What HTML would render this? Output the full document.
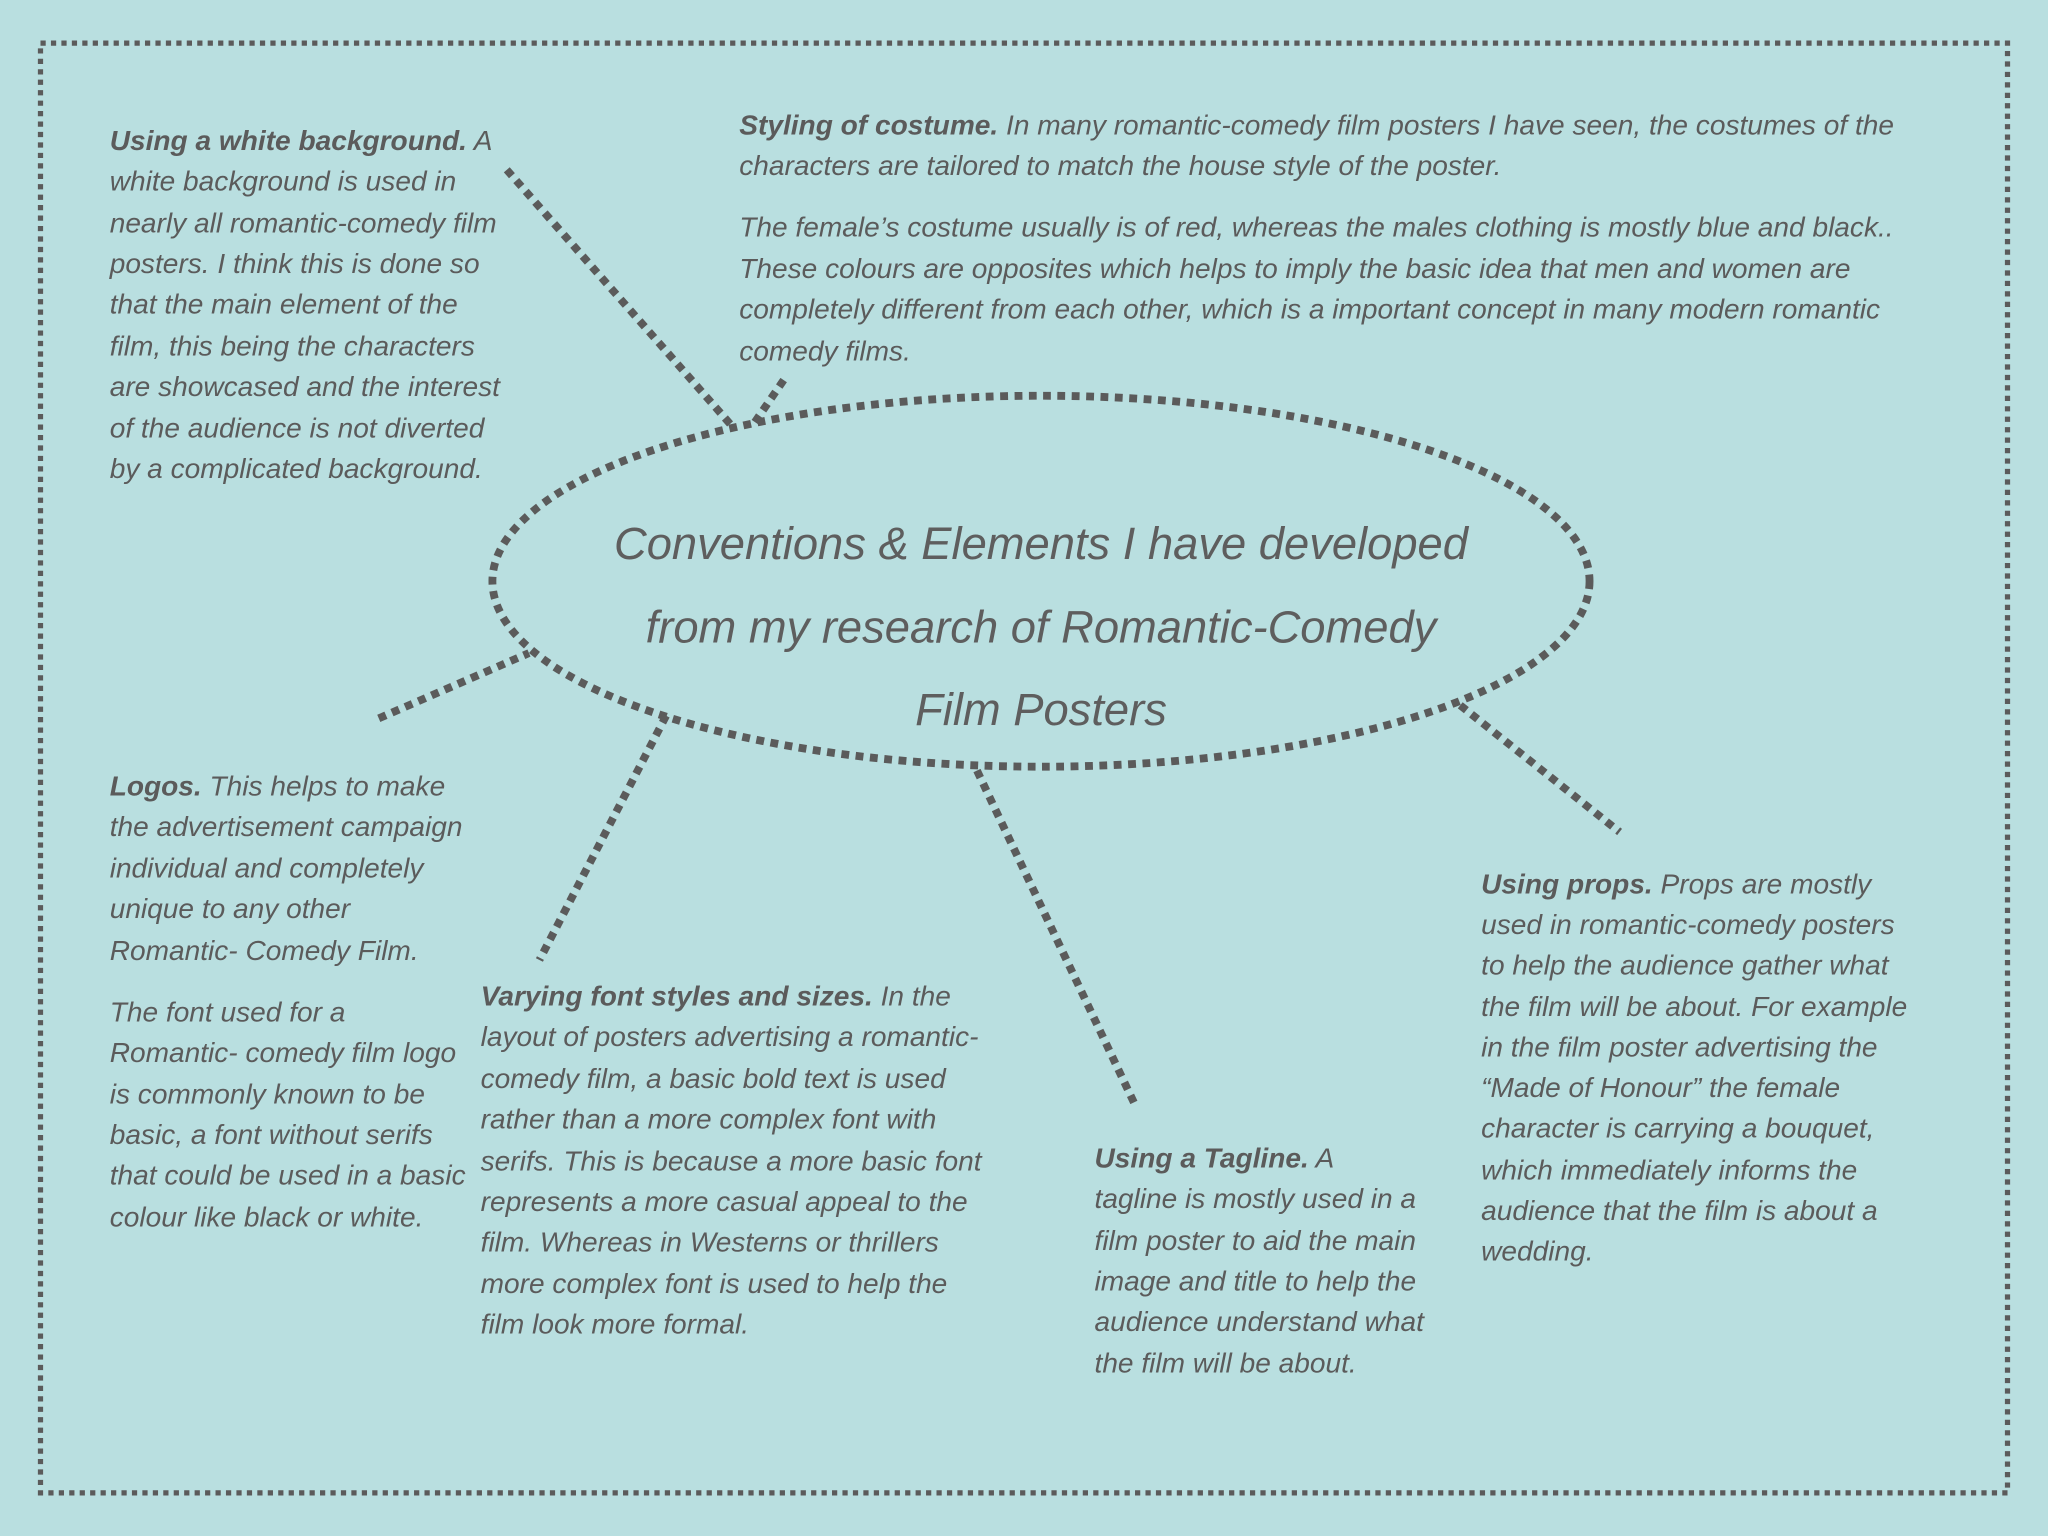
<!DOCTYPE html>
<html><head><meta charset="utf-8">
<style>
html,body{margin:0;padding:0;background:#b9dfe0;}
svg{display:block;}
text{font-family:"Liberation Sans",sans-serif;font-style:italic;fill:#5b5b5b;font-size:21.5px;}
.b{font-weight:bold;}
.t{font-family:"Liberation Sans",sans-serif;font-size:34.7px;fill:#5e5e5e;}
</style></head><body>
<svg width="2048" height="1536" viewBox="0 0 1568 1176" xmlns="http://www.w3.org/2000/svg">
<rect width="1568" height="1176" fill="#b9dfe0"/>
<rect x="31" y="33" width="1506" height="1110" fill="none" stroke="#5b5b5b" stroke-width="4" stroke-dasharray="4 4"/>
<g stroke="#5b5b5b" stroke-width="6" stroke-dasharray="6 5" fill="none">
<ellipse cx="797" cy="445" rx="420" ry="142"/>
<line x1="388" y1="130" x2="562" y2="328"/>
<line x1="600" y1="291" x2="576" y2="326"/>
<line x1="290" y1="550" x2="405" y2="500"/>
<line x1="510" y1="548" x2="413" y2="735"/>
<line x1="748" y1="590" x2="870" y2="848"/>
<line x1="1118" y1="540" x2="1240" y2="637"/>
</g>
<text class="t" x="797" y="428" text-anchor="middle">Conventions &amp; Elements I have developed</text>
<text class="t" x="797" y="492" text-anchor="middle">from my research of Romantic-Comedy</text>
<text class="t" x="797" y="555" text-anchor="middle">Film Posters</text>

<text x="84" y="115"><tspan class="b">Using a white background.</tspan> A</text>
<text x="84" y="146">white background is used in</text>
<text x="84" y="178">nearly all romantic-comedy film</text>
<text x="84" y="209">posters. I think this is done so</text>
<text x="84" y="240">that the main element of the</text>
<text x="84" y="272">film, this being the characters</text>
<text x="84" y="303">are showcased and the interest</text>
<text x="84" y="335">of the audience is not diverted</text>
<text x="84" y="366">by a complicated background.</text>

<text x="566" y="103"><tspan class="b">Styling of costume.</tspan> In many romantic-comedy film posters I have seen, the costumes of the</text>
<text x="566" y="134">characters are tailored to match the house style of the poster.</text>
<text x="566" y="181">The female’s costume usually is of red, whereas the males clothing is mostly blue and black..</text>
<text x="566" y="213">These colours are opposites which helps to imply the basic idea  that men and women are</text>
<text x="566" y="244">completely different from each other, which is a important concept in many modern romantic</text>
<text x="566" y="276">comedy films.</text>

<text x="84" y="609"><tspan class="b">Logos.</tspan> This helps to make</text>
<text x="84" y="640">the advertisement campaign</text>
<text x="84" y="672">individual and completely</text>
<text x="84" y="703">unique to any other</text>
<text x="84" y="735">Romantic- Comedy Film.</text>
<text x="84" y="782">The font used for a</text>
<text x="84" y="813">Romantic- comedy film  logo</text>
<text x="84" y="845">is commonly known to be</text>
<text x="84" y="876">basic, a font without serifs</text>
<text x="84" y="907">that could be used in a basic</text>
<text x="84" y="939">colour like black or white.</text>

<text x="368" y="770"><tspan class="b">Varying font styles and sizes.</tspan> In the</text>
<text x="368" y="801">layout of posters advertising a romantic-</text>
<text x="368" y="833">comedy film, a basic bold text is used</text>
<text x="368" y="864">rather than a  more complex font with</text>
<text x="368" y="896">serifs. This is because a more basic font</text>
<text x="368" y="927">represents a more casual appeal to the</text>
<text x="368" y="958">film. Whereas in Westerns or thrillers</text>
<text x="368" y="990">more complex font is used to help the</text>
<text x="368" y="1021">film look more formal.</text>

<text x="838" y="894"><tspan class="b">Using a Tagline.</tspan> A</text>
<text x="838" y="925">tagline is mostly used in a</text>
<text x="838" y="957">film poster to aid the main</text>
<text x="838" y="988">image and title to help the</text>
<text x="838" y="1019">audience understand what</text>
<text x="838" y="1051">the film will be about.</text>

<text x="1134" y="684"><tspan class="b">Using props.</tspan> Props are mostly</text>
<text x="1134" y="715">used in romantic-comedy posters</text>
<text x="1134" y="746">to help the audience gather what</text>
<text x="1134" y="778">the film will be about. For example</text>
<text x="1134" y="809">in the film poster advertising the</text>
<text x="1134" y="840">“Made of Honour” the female</text>
<text x="1134" y="871">character is carrying a bouquet,</text>
<text x="1134" y="903">which immediately informs the</text>
<text x="1134" y="934">audience that the film is about a</text>
<text x="1134" y="965">wedding.</text>
</svg>
</body></html>
